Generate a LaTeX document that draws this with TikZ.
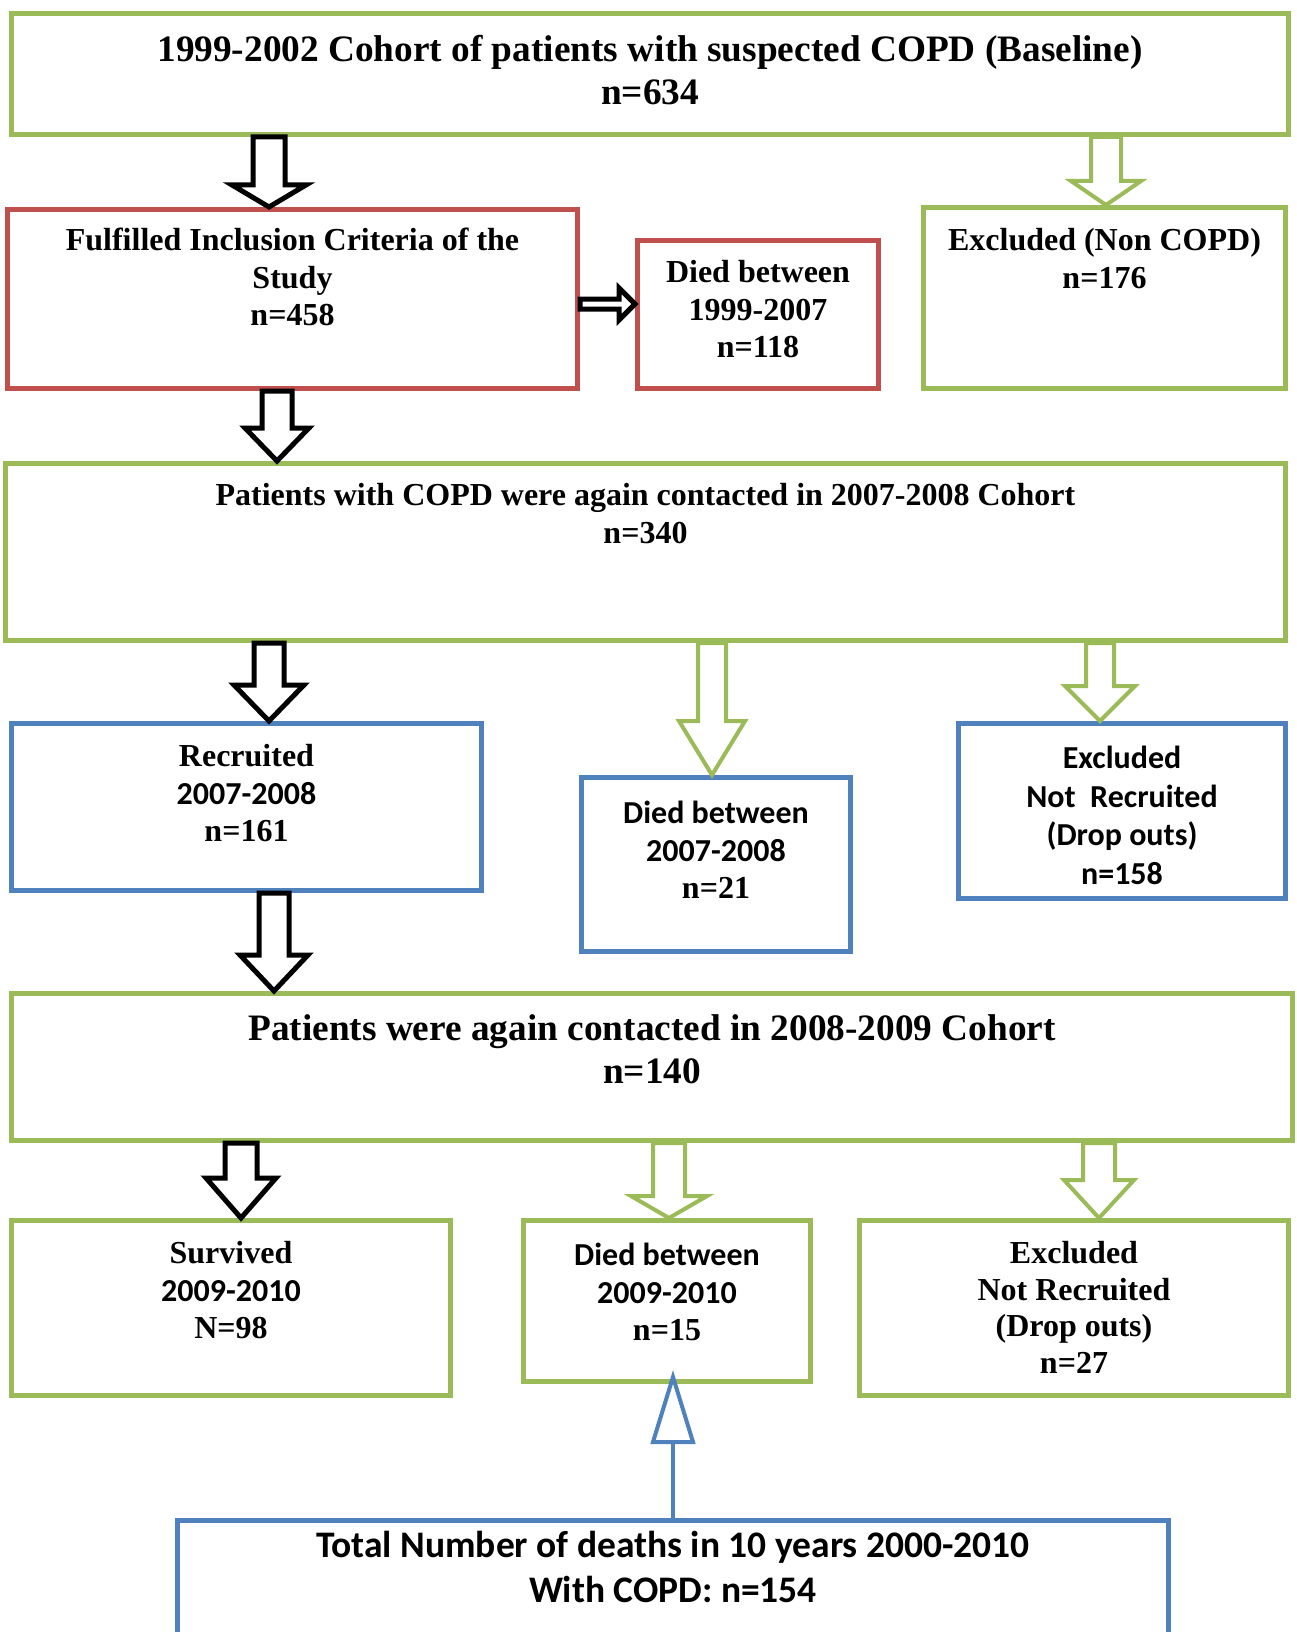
\documentclass[tikz,border=0pt]{standalone}
\usepackage{fontspec}
\setmainfont{Liberation Serif}
\newfontfamily\calib{Carlito}
\usepackage{tikz}
\usetikzlibrary{calc, positioning}
\definecolor{boxgreen}{HTML}{9BBB59}
\definecolor{boxred}{HTML}{C0504D}
\definecolor{boxblue}{HTML}{4F81BD}

% lines of a box: width, height, first baseline, text
\newcommand{\boxlines}[4]{\parbox[b][#2][t]{#1}{\centering\rule{0pt}{#3}#4\par}}

% hollow block arrow downwards: style, x, from, to, shaft, head, head length
\newcommand{\blkdown}[7]{%
  \coordinate (bt) at (#3.south -| #2,0);
  \coordinate (bb) at (#4.north -| #2,0);
  \draw[#1] ($(bt)+(-#5,0)$) -- ($(bb)+(-#5,-#7)$) -- ($(bb)+(-#6,-#7)$) -- (bb)
    -- ($(bb)+(#6,-#7)$) -- ($(bb)+(#5,-#7)$) -- ($(bt)+(#5,0)$) -- cycle;}

\begin{document}
\begin{tikzpicture}[x=1pt, y=-1pt,
    box/.style={line width=5pt, inner sep=0pt, anchor=north west,
      font=\fontsize{32}{37.5}\selectfont\bfseries},
    bigbox/.style={font=\fontsize{37.3}{43}\selectfont\bfseries},
    greenbox/.style={box, draw=boxgreen},
    redbox/.style={box, draw=boxred},
    bluebox/.style={box, draw=boxblue},
    blackarrow/.style={draw=black, line width=5pt, fill=white},
    greenarrow/.style={draw=boxgreen, line width=4pt, fill=white},
    bluearrow/.style={draw=boxblue, line width=4pt, fill=white}]

  \useasboundingbox (0,0) rectangle (1297,1632);
  \clip (0,0) rectangle (1297,1632);
  \fill[white] (0,0) rectangle (1297,1632);

  % baseline cohort
  \node[greenbox, bigbox] (base) at (9,11)
    {\boxlines{1277pt}{121pt}{48pt}{1999-2002 Cohort of patients with suspected COPD (Baseline)\\ n=634}};

  \node[redbox] (incl) at (5,207)
    {\boxlines{570pt}{179pt}{41pt}{Fulfilled Inclusion Criteria of the\\ Study\\ n=458}};
  \node[redbox] (died1) at (635,238)
    {\boxlines{241pt}{148pt}{42pt}{Died between\\ 1999-2007\\ n=118}};
  \node[greenbox] (excl1) at (921,205)
    {\boxlines{362pt}{181pt}{43pt}{Excluded (Non COPD)\\ n=176}};

  \node[greenbox] (copd) at (3,461)
    {\boxlines{1280pt}{177pt}{42pt}{Patients with COPD were again contacted in 2007-2008 Cohort\\ n=340}};

  \node[bluebox] (recr) at (9,721)
    {\boxlines{470pt}{167pt}{43pt}{Recruited\\ {\calib 2007-2008}\\ n=161}};
  \node[bluebox] (died2) at (579,775)
    {\boxlines{269pt}{174pt}{46pt}{{\calib Died between\\ 2007-2008}\\ n=21}};
  \node[bluebox, font=\fontsize{32}{38.5}\selectfont\bfseries\calib] (excl2) at (956,721)
    {\boxlines{327pt}{175pt}{45pt}{Excluded\\ Not~~Recruited\\ (Drop outs)\\ n=158}};

  \node[greenbox, bigbox] (coh3) at (9,991)
    {\boxlines{1281pt}{147pt}{47pt}{Patients were again contacted in 2008-2009 Cohort\\ n=140}};

  \node[greenbox] (surv) at (9,1218)
    {\boxlines{439pt}{175pt}{43pt}{Survived\\ {\calib 2009-2010}\\ N=98}};
  \node[greenbox] (died3) at (521,1218)
    {\boxlines{287pt}{161pt}{45pt}{{\calib Died between\\ 2009-2010}\\ n=15}};
  \node[greenbox, font=\fontsize{32}{36.5}\selectfont\bfseries] (excl3) at (857,1218)
    {\boxlines{429pt}{175pt}{43pt}{Excluded\\ Not Recruited\\ (Drop outs)\\ n=27}};

  \node[bluebox, font=\fontsize{37.5}{45}\selectfont\bfseries\calib] (tot) at (175,1518)
    {\boxlines{991pt}{200pt}{37pt}{Total Number of deaths in 10 years 2000-2010\\ With COPD: n=154}};

  % block arrows
  \blkdown{blackarrow}{269}{base}{incl}{16}{37}{22}
  \blkdown{greenarrow}{1106}{base}{excl1}{15}{35}{24}
  \blkdown{blackarrow}{277}{incl}{copd}{15}{32}{33}
  \blkdown{blackarrow}{269}{copd}{recr}{15}{35}{36}
  \blkdown{greenarrow}{712}{copd}{died2}{14}{33}{54}
  \blkdown{greenarrow}{1100}{copd}{excl2}{14}{35}{35}
  \blkdown{blackarrow}{274}{recr}{coh3}{15}{34}{36}
  \blkdown{blackarrow}{241}{coh3}{surv}{16}{35}{40}
  \blkdown{greenarrow}{669}{coh3}{died3}{16}{38}{22}
  \blkdown{greenarrow}{1099}{coh3}{excl3}{16}{35}{38}

  \coordinate (rt) at (incl.east |- 0,304);
  \coordinate (rb) at (died1.west |- 0,304);
  \draw[blackarrow] ($(rt)+(0,-5)$) -- ($(rb)+(-16,-5)$) -- ($(rb)+(-16,-16)$) -- (rb)
    -- ($(rb)+(-16,16)$) -- ($(rb)+(-16,5)$) -- ($(rt)+(0,5)$) -- cycle;

  \coordinate (ubase) at ($(tot.north -| 673,0)+(0,-76)$);
  \coordinate (utip) at ($(died3.south -| 673,0)+(0,-7)$);
  \draw[bluearrow] (tot.north -| 673,0) -- (ubase);
  \draw[bluearrow] ($(ubase)+(-20,0)$) -- (utip) -- ($(ubase)+(20,0)$) -- cycle;
\end{tikzpicture}
\end{document}
